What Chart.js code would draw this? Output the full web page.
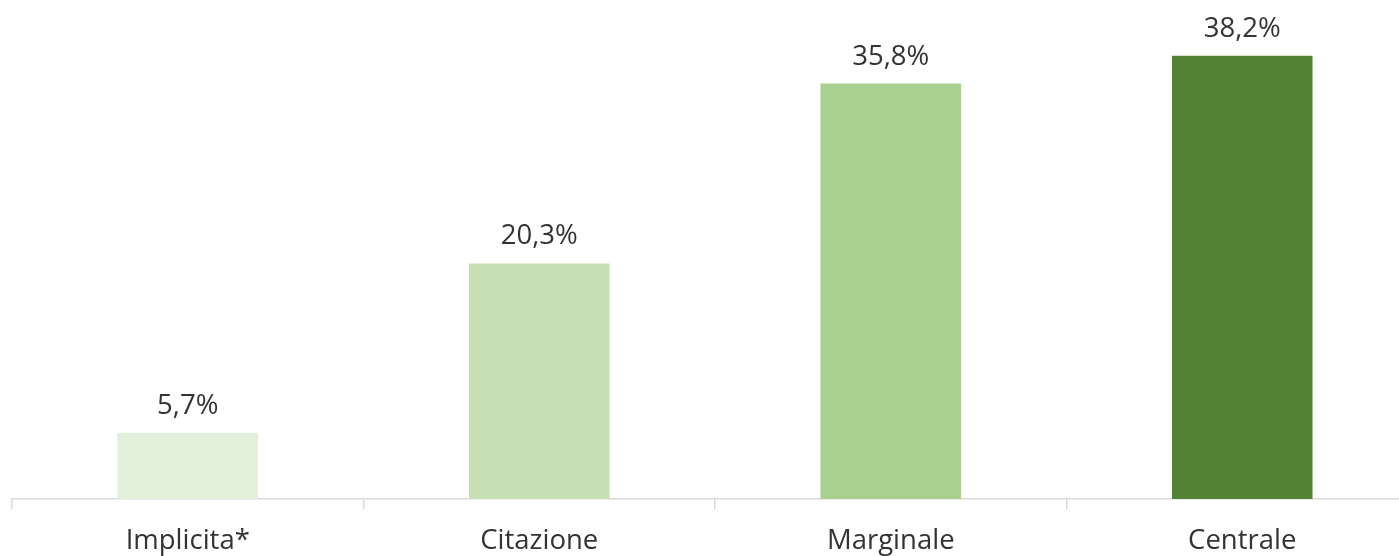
<!DOCTYPE html>
<html>
<head>
<meta charset="utf-8">
<script src="https://cdn.jsdelivr.net/npm/chart.js@4"></script>
<style>
  html, body { margin: 0; padding: 0; background: #ffffff; overflow: hidden; width: 1399px; height: 556px; }
  #wrap { width: 1418px; height: 556px; }
</style>
</head>
<body>
<div id="wrap"><canvas id="c" width="1418" height="556"></canvas></div>
<script>
const categories = ["Implicita*", "Citazione", "Marginale", "Centrale"];
const values = [5.7, 20.3, 35.8, 38.2];
const barColors = ["#e2efda", "#c6e0b4", "#a9d08e", "#548235"];

const FONT = "'Open Sans', 'DejaVu Sans', sans-serif";

const valueLabels = {
  id: 'valueLabels',
  afterDatasetsDraw(chart) {
    const ctx = chart.ctx;
    const meta = chart.getDatasetMeta(0);
    ctx.save();
    ctx.font = "27.5px " + FONT;
    ctx.fillStyle = "#333333";
    ctx.textAlign = "center";
    ctx.textBaseline = "alphabetic";
    meta.data.forEach((bar, i) => {
      const txt = values[i].toFixed(1).replace('.', ',') + '%';
      ctx.fillText(txt, bar.x, bar.y - 19);
    });
    ctx.restore();
  }
};

new Chart(document.getElementById('c'), {
  type: 'bar',
  data: {
    labels: categories,
    datasets: [{
      data: values,
      backgroundColor: barColors,
      borderWidth: 0,
      barPercentage: 0.4,
      categoryPercentage: 1.0
    }]
  },
  options: {
    responsive: false,
    animation: false,
    layout: { padding: { left: 12, right: 0, top: 0, bottom: 0 } },
    plugins: { legend: { display: false }, tooltip: { enabled: false } },
    scales: {
      x: {
        offset: true,
        afterFit(scale) { scale.height = 57; },
        grid: {
          offset: true,
          display: true,
          drawOnChartArea: false,
          drawTicks: true,
          tickLength: 10,
          color: "#d9d9d9",
          lineWidth: 1.5
        },
        border: { display: true, color: "#d9d9d9", width: 1.5 },
        ticks: {
          padding: 16,
          color: "#333333",
          font: { family: FONT, size: 27.5 },
          maxRotation: 0,
          autoSkip: false
        }
      },
      y: {
        display: false,
        min: 0,
        max: 43
      }
    }
  },
  plugins: [valueLabels]
});
</script>
</body>
</html>
